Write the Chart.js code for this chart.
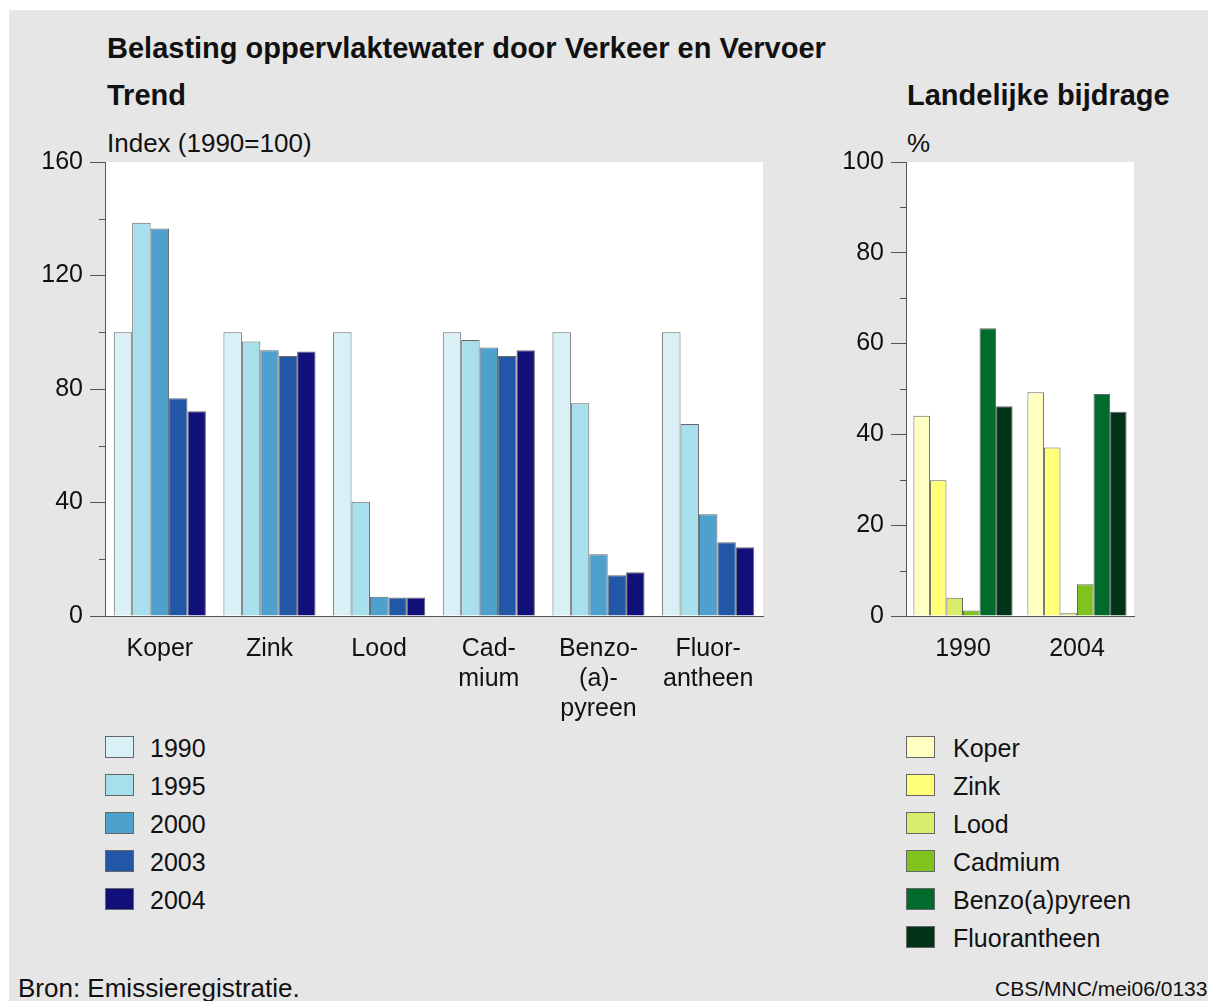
<!DOCTYPE html>
<html>
<head>
<meta charset="utf-8">
<script src="https://cdn.jsdelivr.net/npm/chart.js"></script>
<style>
  html { margin: 0; background: #e6e6e6; overflow: hidden; }
  body { margin: 0; width: 1208px; height: 1001px; overflow: hidden; position: relative; background: #e6e6e6;
         font-family: "Liberation Sans", Arial, sans-serif; color: #111; }
  #edgeTop { position: absolute; left: 0; top: 0; width: 1208px; height: 10px; background: #fff; }
  #edgeLeft { position: absolute; left: 0; top: 0; width: 9px; height: 1001px; background: #fff; }
  .t { position: absolute; white-space: nowrap; }
  .b { font-weight: bold; font-size: 29px; line-height: 34px; }
  .n { font-size: 26px; line-height: 30px; }
  canvas { position: absolute; }
  .leg { position: absolute; }
  .leg div { position: absolute; left: 0; white-space: nowrap; font-size: 25px; line-height: 30px; }
  .leg span { position: absolute; left: 0; top: 3px; width: 29px; height: 22px; border: 1px solid #666; box-sizing: border-box; }
  .leg b { position: absolute; font-weight: normal; top: 0; }
</style>
</head>
<body>
<div id="edgeTop"></div>
<div id="edgeLeft"></div>
<div class="t b" style="left:107px; top:31px;">Belasting oppervlaktewater door Verkeer en Vervoer</div>
<div class="t b" style="left:107px; top:78px;">Trend</div>
<div class="t b" style="left:907px; top:78px;">Landelijke bijdrage</div>
<div class="t n" style="left:107px; top:128px;">Index (1990=100)</div>
<div class="t n" style="left:907px; top:128px;">%</div>
<canvas id="trend" width="780" height="600" style="left:0; top:130px;"></canvas>
<canvas id="share" width="408" height="600" style="left:800px; top:130px;"></canvas>
<div class="leg" id="trendLegend" style="left:105px; top:733px;"></div>
<div class="leg" id="shareLegend" style="left:906px; top:733px;"></div>
<div class="t n" style="left:18px; top:973px;">Bron: Emissieregistratie.</div>
<div class="t" style="left:995px; top:977px; font-size:21px; line-height:24px;">CBS/MNC/mei06/0133</div>

<script>
// Trend, index 1990 = 100
const trendCategories = ['Koper', 'Zink', 'Lood', ['Cad-', 'mium'], ['Benzo-', '(a)-', 'pyreen'], ['Fluor-', 'antheen']];
const trendYears = ['1990', '1995', '2000', '2003', '2004'];
const trend1990 = [100, 100, 100, 100, 100, 100];
const trend1995 = [138.6, 96.7, 40.3, 97.3, 75.0, 67.7];
const trend2000 = [136.6, 93.7, 6.8, 94.6, 21.8, 35.9];
const trend2003 = [76.7, 91.6, 6.5, 91.6, 14.4, 26.0];
const trend2004 = [72.2, 93.2, 6.5, 93.7, 15.4, 24.2];
const trendColors = ['#d9f0f6', '#a7dfec', '#4ea1cc', '#2256a6', '#11107a'];
const trendTicks = [0, 40, 80, 120, 160];

// Landelijke bijdrage, %
const shareYears = ['1990', '2004'];
const shareSubstances = ['Koper', 'Zink', 'Lood', 'Cadmium', 'Benzo(a)pyreen', 'Fluorantheen'];
const shareKoper = [44.1, 49.3];
const shareZink = [29.9, 37.1];
const shareLood = [4.0, 0.6];
const shareCadmium = [1.2, 7.0];
const shareBenzo = [63.4, 48.9];
const shareFluor = [46.2, 45.0];
const shareColors = ['#ffffc2', '#ffff7a', '#d9ec6c', '#80c31d', '#006b2d', '#003317'];
const shareTicks = [0, 20, 40, 60, 80, 100];

const axisColor = '#555';
const font = { family: '"Liberation Sans", Arial, sans-serif', size: 25, lineHeight: 1.2 };

// white plot area on the grey page
const plotBg = {
    id: 'plotBg',
    beforeDraw(chart) {
        const a = chart.chartArea, ctx = chart.ctx;
        ctx.save();
        ctx.fillStyle = '#fff';
        ctx.fillRect(a.left, a.top, a.right - a.left, a.bottom - a.top);
        ctx.restore();
    }
};

// short ticks between the labelled ones
const minorTicks = {
    id: 'minorTicks',
    afterDraw(chart, args, opts) {
        const y = chart.scales.y, ctx = chart.ctx;
        ctx.save();
        ctx.strokeStyle = axisColor;
        ctx.lineWidth = 1;
        y.ticks.forEach(t => {
            if (opts.labels.indexOf(t.value) < 0) {
                const py = Math.round(y.getPixelForValue(t.value)) + 0.5;
                ctx.beginPath();
                ctx.moveTo(y.right - 6, py);
                ctx.lineTo(y.right, py);
                ctx.stroke();
            }
        });
        ctx.restore();
    }
};

function makeChart(id, labels, datasets, max, step, tickLabels, yWidth, xHeight, padRight, catPct) {
    return new Chart(document.getElementById(id), {
        type: 'bar',
        data: { labels: labels, datasets: datasets },
        plugins: [plotBg, minorTicks],
        options: {
            responsive: false,
            animation: false,
            layout: { padding: { top: 32, right: padRight, bottom: 0, left: 0 } },
            datasets: { bar: { categoryPercentage: catPct, barPercentage: 1, borderWidth: 1, borderColor: 'rgba(0,0,0,0.6)' } },
            plugins: {
                legend: { display: false },
                tooltip: { enabled: false },
                minorTicks: { labels: tickLabels }
            },
            scales: {
                x: {
                    grid: { display: false },
                    border: { display: true, color: axisColor, width: 1 },
                    ticks: { color: '#111', font: font, padding: 10, maxRotation: 0, autoSkip: false },
                    afterFit: s => { s.height = xHeight; }
                },
                y: {
                    min: 0, max: max,
                    grid: {
                        drawOnChartArea: false, tickLength: 15,
                        tickColor: c => tickLabels.indexOf(c.tick.value) >= 0 ? axisColor : 'rgba(0,0,0,0)'
                    },
                    border: { color: axisColor, width: 1 },
                    ticks: {
                        stepSize: step, color: '#111', font: font, padding: 7,
                        callback: v => tickLabels.indexOf(v) >= 0 ? String(v) : ''
                    },
                    afterFit: s => { s.width = yWidth; }
                }
            }
        }
    });
}

const trendSeries = [trend1990, trend1995, trend2000, trend2003, trend2004];
makeChart('trend', trendCategories,
    trendYears.map((y, i) => ({ label: y, data: trendSeries[i], backgroundColor: trendColors[i] })),
    160, 20, trendTicks, 105, 114, 17, 0.84);

const shareSeries = [shareKoper, shareZink, shareLood, shareCadmium, shareBenzo, shareFluor];
makeChart('share', shareYears,
    shareSubstances.map((s, i) => ({ label: s, data: shareSeries[i], backgroundColor: shareColors[i] })),
    100, 10, shareTicks, 106, 114, 74, 0.87);

// legends below the charts
function legend(id, names, colors, textX) {
    const el = document.getElementById(id);
    names.forEach((n, i) => {
        const row = document.createElement('div');
        row.style.top = (i * 38) + 'px';
        row.innerHTML = '<span style="background:' + colors[i] + '"></span><b style="left:' + textX + 'px">' + n + '</b>';
        el.appendChild(row);
    });
}
legend('trendLegend', trendYears, trendColors, 45);
legend('shareLegend', shareSubstances, shareColors, 47);
</script>
</body>
</html>
